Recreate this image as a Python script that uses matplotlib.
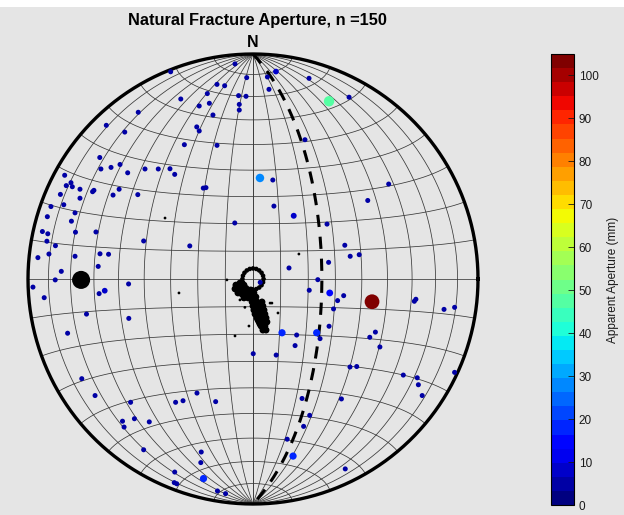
import numpy as np
import matplotlib
matplotlib.use('Agg')
import matplotlib.pyplot as plt
from matplotlib.colors import Normalize
from matplotlib.cm import ScalarMappable
from matplotlib.patches import Rectangle

plt.rcParams['font.family'] = ['Liberation Sans', 'DejaVu Sans']

# fracture poles, equal-area (Schmidt) projected positions, net radius = 1
east = [-0.080, -0.366, -0.028, -0.160, -0.126, -0.203, -0.064, -0.031, -0.321, -0.194,
        -0.239, -0.061, -0.061, -0.178, -0.510, -0.652, -0.570, -0.250, -0.239, -0.305,
        -0.160, -0.681, -0.676, -0.631, -0.591, -0.557, -0.480, -0.421, -0.369, -0.348,
        -0.837, -0.809, -0.830, -0.803, -0.769, -0.713, -0.707, -0.595, -0.856, -0.769,
        -0.622, -0.512, -0.221, -0.209, -0.841, -0.898, -0.914, -0.791, -0.807, -0.936,
        -0.912, -0.789, -0.698, -0.916, -0.878, -0.486, -0.281, -0.081, -0.956, -0.907,
        -0.791, -0.680, -0.642, -0.852, -0.688, -0.879, -0.978, -0.928, -0.553, -0.659,
        -0.684, -0.740, -0.552, -0.824, 0.102, 0.064, 0.071, 0.249, 0.427, 0.338,
        0.231, 0.031, 0.088, 0.603, 0.510, 0.093, 0.181, 0.329, 0.408, 0.432,
        0.472, 0.336, 0.160, 0.288, 0.032, 0.250, 0.341, 0.403, 0.376, 0.529,
        0.717, 0.724, 0.358, 0.849, 0.896, 0.129, 0.283, 0.194, 0.298, 0.338,
        0.187, 0.544, 0.519, 0.564, 0.103, 0.001, 0.431, 0.461, 0.668, 0.730,
        0.735, 0.752, 0.896, 0.218, 0.393, 0.252, 0.225, 0.152, 0.178, 0.410,
        -0.761, -0.702, -0.544, -0.344, -0.311, -0.249, -0.166, -0.580, -0.527, -0.461,
        -0.573, -0.486, -0.230, -0.232, -0.348, -0.350, -0.339, -0.220, -0.158, -0.122]
north = [0.956, 0.921, 0.895, 0.865, 0.859, 0.824, 0.815, 0.812, 0.800, 0.781,
         0.769, 0.776, 0.751, 0.729, 0.741, 0.683, 0.653, 0.676, 0.658, 0.597,
         0.594, 0.540, 0.489, 0.496, 0.509, 0.472, 0.489, 0.489, 0.490, 0.465,
         0.461, 0.428, 0.415, 0.410, 0.399, 0.388, 0.394, 0.399, 0.376, 0.359,
         0.373, 0.375, 0.404, 0.406, 0.330, 0.322, 0.277, 0.294, 0.257, 0.211,
         0.201, 0.208, 0.209, 0.168, 0.148, 0.169, 0.147, 0.249, 0.095, 0.111,
         0.101, 0.112, 0.110, 0.034, 0.056, -0.004, -0.036, -0.083, -0.022, -0.052,
         -0.065, -0.156, -0.175, -0.241, 0.922, 0.898, 0.843, 0.892, 0.808, 0.790,
         0.619, 0.449, 0.440, 0.422, 0.349, 0.324, 0.281, 0.244, 0.150, 0.101,
         0.108, 0.074, 0.049, -0.003, -0.015, -0.050, -0.062, -0.074, -0.096, -0.101,
         -0.099, -0.090, -0.133, -0.135, -0.126, -0.239, -0.239, -0.249, -0.265, -0.210,
         -0.296, -0.236, -0.259, -0.302, -0.338, -0.332, -0.391, -0.389, -0.427, -0.439,
         -0.470, -0.518, -0.415, -0.531, -0.533, -0.606, -0.655, -0.712, -0.787, -0.844,
         -0.443, -0.518, -0.548, -0.548, -0.541, -0.507, -0.545, -0.632, -0.621, -0.635,
         -0.658, -0.759, -0.769, -0.816, -0.858, -0.905, -0.910, -0.887, -0.942, -0.954]
aperture = [4, 4, 4, 4, 4, 4, 4, 4, 4, 4,
            4, 4, 4, 4, 4, 4, 4, 4, 4, 4,
            4, 4, 4, 4, 4, 4, 4, 4, 4, 4,
            4, 4, 4, 4, 4, 4, 4, 4, 4, 4,
            4, 4, 4, 4, 4, 4, 4, 4, 4, 4,
            4, 4, 4, 4, 4, 4, 4, 4, 4, 4,
            4, 4, 4, 4, 4, 4, 4, 4, 4, 8,
            4, 4, 4, 4, 8, 4, 4, 4, 4, 47,
            4, 28, 4, 4, 4, 4, 9, 4, 4, 4,
            4, 4, 4, 4, 4, 4, 15, 4, 4, 104,
            4, 4, 4, 4, 4, 18, 18, 4, 4, 4,
            4, 4, 4, 4, 4, 4, 4, 4, 4, 4,
            4, 4, 4, 4, 4, 4, 4, 4, 18, 4,
            4, 4, 4, 4, 4, 4, 4, 4, 4, 4,
            4, 4, 4, 4, 4, 4, 4, 18, 4, 4]

# large black marker
big_east, big_north = [-0.764], [-0.004]

# scattered small black points
small_east = [-0.391, -0.329, -0.116, -0.080, -0.018, 0.204, 0.111, 0.084, 0.076, -0.058, -0.046, -0.036]
small_north = [0.271, -0.062, -0.004, -0.253, -0.209, 0.111, -0.151, -0.107, -0.107, -0.093, -0.089, -0.126]

# dense black cluster near the centre: ring ...
ring_east = [0.047, 0.0447, 0.038, 0.0276, 0.0145, 0.0, -0.0145, -0.0276, -0.038, -0.0447,
             -0.047, -0.0447, -0.038, -0.0276, -0.0145, 0.0, 0.0145, 0.0276, 0.038, 0.0447]
ring_north = [0.0, 0.0145, 0.0276, 0.038, 0.0447, 0.047, 0.0447, 0.038, 0.0276, 0.0145,
              0.0, -0.0145, -0.0276, -0.038, -0.0447, -0.047, -0.0447, -0.038, -0.0276, -0.0145]
# ... and the blob / tail below it
tail_east = [-0.076, -0.058, -0.040, -0.080, -0.062, -0.044, -0.027, -0.009, -0.067, -0.049,
             -0.031, -0.013, 0.004, -0.040, -0.022, -0.004, 0.013,
             -0.004, 0.018, 0.040, 0.000, 0.022, 0.044, 0.004, 0.027, 0.049, 0.009,
             0.031, 0.053, 0.018, 0.040, 0.058, 0.027, 0.044, 0.062, 0.036, 0.053,
             0.044, 0.058, 0.007, 0.029, 0.013, 0.036, 0.022, 0.047, 0.031, 0.051, 0.049]
tail_north = [-0.027, -0.018, -0.027, -0.044, -0.044, -0.044, -0.049, -0.049, -0.062, -0.067,
              -0.067, -0.067, -0.062, -0.084, -0.084, -0.084, -0.080,
              -0.102, -0.102, -0.102, -0.120, -0.120, -0.120, -0.138, -0.138, -0.138, -0.156,
              -0.156, -0.156, -0.173, -0.173, -0.173, -0.191, -0.191, -0.191, -0.209, -0.209,
              -0.227, -0.227, -0.111, -0.111, -0.147, -0.147, -0.182, -0.182, -0.200, -0.200, -0.218]

# mean plane (strike, dip)
plane_strike, plane_dip = 0, 65


def project(v):
    # lower hemisphere equal-area, v = (E, N, Down)
    e, n, d = v
    k = 1.0 / np.sqrt(1.0 + d)
    return e * k, n * k


def great_circle(strike, dip):
    t = np.radians(np.linspace(0, 180, 181))
    s, dp = np.radians(strike), np.radians(dip)
    sv = np.array([np.sin(s), np.cos(s), 0.0])
    dv = np.array([np.sin(s + np.pi / 2) * np.cos(dp), np.cos(s + np.pi / 2) * np.cos(dp), np.sin(dp)])
    v = np.outer(sv, np.cos(t)) + np.outer(dv, np.sin(t))
    return project(v)


def small_circle(alpha):
    s = np.radians(np.linspace(0, 180, 181))
    a = np.radians(alpha)
    v = np.array([np.sin(a) * np.cos(s), np.full_like(s, np.cos(a)), np.sin(a) * np.sin(s)])
    return project(v)


fig = plt.figure(figsize=(6.24, 5.15), dpi=100)
fig.patch.set_facecolor('#e5e5e5')
fig.add_artist(Rectangle((0, 1 - 7 / 515), 1, 7 / 515, transform=fig.transFigure,
                         facecolor='white', edgecolor='none'))

lim = 1.05
ax = fig.add_axes([16.75 / 624, -0.25 / 515, 472.5 / 624, 472.5 / 515])
ax.set_xlim(-lim, lim)
ax.set_ylim(-lim, lim)
ax.set_aspect('equal')
ax.axis('off')

# Schmidt net grid
for d in range(10, 91, 10):
    for st in (0, 180):
        x, y = great_circle(st, d)
        ax.plot(x, y, color='0.22', lw=0.55, zorder=1)
for a in range(10, 171, 10):
    x, y = small_circle(a)
    ax.plot(x, y, color='0.22', lw=0.55, zorder=1)

th = np.linspace(0, 2 * np.pi, 361)
ax.plot(np.cos(th), np.sin(th), color='black', lw=2.4, zorder=3, clip_on=False)

x, y = great_circle(plane_strike, plane_dip)
ax.plot(x, y, color='black', lw=2.2, ls=(0, (4, 3.2)), zorder=4)

ax.scatter(ring_east, ring_north, s=11, c='black', edgecolors='none', zorder=5)
ax.scatter(tail_east, tail_north, s=24, c='black', edgecolors='none', zorder=5)
ax.scatter(small_east, small_north, s=4, c='black', edgecolors='none', zorder=5)
ax.scatter(big_east, big_north, s=169, c='black', edgecolors='none', zorder=6)

cmap = plt.get_cmap('jet', 32)
norm = Normalize(vmin=0, vmax=105)
ap = np.array(aperture)
ax.scatter(east, north, c=ap, cmap=cmap, norm=norm, s=9 + ap * 1.0,
           edgecolors='none', zorder=7)

ax.text(0, 1.049, 'N', ha='center', va='center', fontsize=11.5, fontweight='bold')
fig.text(257.5 / 624, 1 - 20 / 515, 'Natural Fracture Aperture, n =150',
         ha='center', va='center', fontsize=11.8, fontweight='bold')

cax = fig.add_axes([551 / 624, 10 / 515, 23 / 624, 451 / 515])
cb = fig.colorbar(ScalarMappable(norm=norm, cmap=cmap), cax=cax)
cb.set_ticks(range(0, 101, 10))
cax.tick_params(direction='in', length=4, width=0.6, labelsize=8.5, colors='0.1')
cb.outline.set_linewidth(0.8)
cb.set_label('Apparent Aperture (mm)', fontsize=8.5, color='0.1', labelpad=6)

fig.savefig('out.png', dpi=100, facecolor=fig.get_facecolor())
